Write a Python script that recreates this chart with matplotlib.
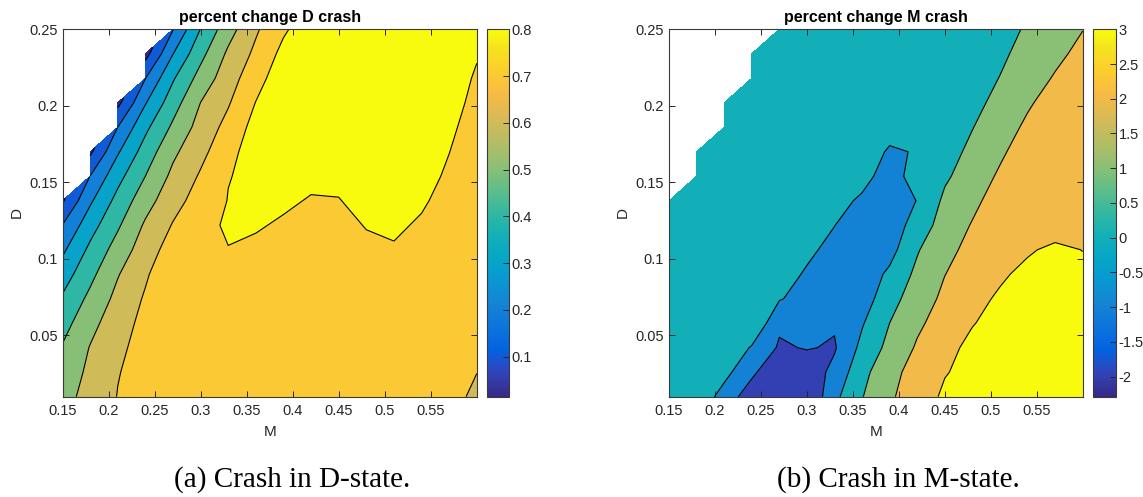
import numpy as np
import matplotlib
matplotlib.use("Agg")
import matplotlib.pyplot as plt
from matplotlib.colors import LinearSegmentedColormap, Normalize
from matplotlib.cm import ScalarMappable

nan = np.nan

# ---- grid ----
M_VALS = [0.15, 0.18, 0.21, 0.24, 0.27, 0.30, 0.33, 0.36,
          0.39, 0.42, 0.45, 0.48, 0.51, 0.54, 0.57, 0.60]
D_VALS = [0.010, 0.026, 0.042, 0.058, 0.074, 0.090, 0.106, 0.122,
          0.138, 0.154, 0.170, 0.186, 0.202, 0.218, 0.234, 0.250]

# percent change, D crash (rows = D from bottom to top)
Z_DCRASH = [
    [0.566, 0.634, 0.703, 0.7154, 0.7303, 0.7451, 0.760, 0.761, 0.7625, 0.764, 0.765, 0.7625, 0.760, 0.7371, 0.7142, 0.691],
    [0.542, 0.620, 0.696, 0.7335, 0.745, 0.752, 0.762, 0.7635, 0.765, 0.7665, 0.768, 0.7665, 0.765, 0.745, 0.723, 0.7005],
    [0.508, 0.6045, 0.6749, 0.745, 0.752, 0.758, 0.765, 0.7663, 0.7675, 0.7688, 0.770, 0.769, 0.768, 0.752, 0.736, 0.720],
    [0.4619, 0.571, 0.6548, 0.7293, 0.745, 0.758, 0.768, 0.769, 0.770, 0.771, 0.772, 0.771, 0.770, 0.760, 0.750, 0.740],
    [0.4128, 0.5235, 0.628, 0.7111, 0.740, 0.758, 0.772, 0.773, 0.774, 0.775, 0.776, 0.7755, 0.775, 0.770, 0.765, 0.760],
    [0.3512, 0.4734, 0.5935, 0.6869, 0.778, 0.785, 0.789, 0.784, 0.780, 0.780, 0.780, 0.7826, 0.787, 0.780, 0.778, 0.775],
    [0.2813, 0.4219, 0.5418, 0.6516, 0.745, 0.775, 0.7985, 0.7935, 0.786, 0.778, 0.779, 0.792, 0.7966, 0.786, 0.775, 0.770],
    [0.2027, 0.359, 0.4862, 0.6142, 0.7064, 0.7837, 0.807, 0.8031, 0.7958, 0.788, 0.789, 0.8018, 0.8062, 0.7953, 0.780, 0.775],
    [0.0885, 0.2846, 0.4321, 0.5596, 0.665, 0.7412, 0.803, 0.813, 0.8054, 0.7976, 0.7986, 0.8114, 0.815, 0.8049, 0.7868, 0.775],
    [nan, 0.2017, 0.3677, 0.5004, 0.6242, 0.7109, 0.797, 0.818, 0.815, 0.8072, 0.8082, 0.818, 0.818, 0.8125, 0.7945, 0.777],
    [nan, 0.0806, 0.2889, 0.4435, 0.5797, 0.6741, 0.7648, 0.857, 0.84, 0.83, 0.83, 0.83, 0.83, 0.818, 0.8005, 0.780],
    [nan, nan, 0.2006, 0.3776, 0.5179, 0.6382, 0.731, 0.835, 0.84, 0.83, 0.83, 0.83, 0.83, 0.82, 0.806, 0.786],
    [nan, nan, 0.0729, 0.2932, 0.4562, 0.6012, 0.691, 0.8026, 0.84, 0.83, 0.83, 0.83, 0.83, 0.82, 0.810, 0.7925],
    [nan, nan, nan, 0.1983, 0.3894, 0.5374, 0.656, 0.7623, 0.86, 0.84, 0.83, 0.83, 0.83, 0.82, 0.8125, 0.797],
    [nan, nan, nan, 0.0634, 0.298, 0.4709, 0.6178, 0.7213, 0.8277, 0.84, 0.83, 0.83, 0.83, 0.82, 0.815, 0.8019],
    [nan, nan, nan, nan, 0.1963, 0.4026, 0.5596, 0.6869, 0.7855, 0.86, 0.83, 0.83, 0.83, 0.82, 0.815, 0.81],
]

# percent change, M crash
Z_MCRASH = [
    [0.80, 0.75, -0.405, -1.565, -1.90, -1.98, -0.247, 0.959, 1.86, 2.527, 3.152, 3.20, 3.25, 3.25, 3.25, 3.25],
    [0.80, 0.75, 0.303, -0.792, -1.887, -1.60, -0.722, 0.70, 1.72, 2.348, 2.95, 3.25, 3.30, 3.30, 3.30, 3.30],
    [0.80, 0.80, 0.90, -0.099, -1.119, -0.941, -1.096, 0.262, 1.286, 2.111, 2.687, 3.263, 3.30, 3.30, 3.30, 3.30],
    [0.75, 0.80, 0.85, 0.95, -0.84, -0.95, -0.90, -0.084, 1.003, 1.831, 2.422, 2.95, 3.35, 3.35, 3.35, 3.35],
    [0.70, 0.75, 0.80, 0.80, 0.07, -0.377, -0.75, -0.50, 0.623, 1.531, 2.193, 2.673, 3.15, 3.25, 3.30, 3.30],
    [0.65, 0.70, 0.75, 0.70, 0.353, -0.098, -0.55, -0.60, 0.191, 1.233, 1.985, 2.416, 2.841, 3.267, 3.30, 3.25],
    [0.60, 0.65, 0.70, 0.70, 0.60, 0.173, -0.249, -0.60, -0.35, 0.912, 1.82, 2.187, 2.532, 2.876, 3.22, 2.98],
    [0.55, 0.60, 0.65, 0.65, 0.60, 0.45, 0.014, -0.50, -0.60, 0.45, 1.42, 2.064, 2.40, 2.60, 2.47, 2.60],
    [0.50, 0.55, 0.60, 0.60, 0.60, 0.55, 0.267, -0.124, -0.45, 0.022, 1.196, 1.771, 2.431, 2.50, 2.40, 2.45],
    [nan, 0.50, 0.55, 0.55, 0.55, 0.50, 0.45, 0.2534, -0.35, 0.336, 0.85, 1.49, 2.133, 2.40, 2.45, 2.50],
    [nan, 0.50, 0.50, 0.50, 0.50, 0.50, 0.50, 0.45, -0.10, 0.05, 0.60, 1.228, 1.845, 2.465, 2.50, 2.55],
    [nan, nan, 0.45, 0.45, 0.45, 0.45, 0.45, 0.40, 0.30, 0.40, 0.70, 0.97, 1.57, 2.17, 2.50, 2.60],
    [nan, nan, 0.40, 0.40, 0.40, 0.40, 0.40, 0.40, 0.40, 0.45, 0.50, 0.70, 1.309, 1.88, 2.40, 2.60],
    [nan, nan, nan, 0.40, 0.40, 0.40, 0.40, 0.40, 0.40, 0.40, 0.45, 0.60, 1.024, 1.556, 2.083, 2.50],
    [nan, nan, nan, 0.35, 0.35, 0.35, 0.35, 0.35, 0.35, 0.35, 0.40, 0.55, 0.835, 1.307, 1.78, 2.25],
    [nan, nan, nan, nan, 0.35, 0.35, 0.35, 0.35, 0.35, 0.35, 0.35, 0.50, 0.70, 1.096, 1.55, 1.98],
]

LEVELS_D = [0.1, 0.2, 0.3, 0.4, 0.5, 0.6, 0.7, 0.8]
RANGE_D = (0.014, 0.8)
CBTICKS_D = [0.1, 0.2, 0.3, 0.4, 0.5, 0.6, 0.7, 0.8]

LEVELS_M = [-2, -1, 0, 1, 2, 3]
RANGE_M = (-2.29, 3.0)
CBTICKS_M = [-2, -1.5, -1, -0.5, 0, 0.5, 1, 1.5, 2, 2.5, 3]

XTICKS = [0.15, 0.2, 0.25, 0.3, 0.35, 0.4, 0.45, 0.5, 0.55]
YTICKS = [0.05, 0.1, 0.15, 0.2, 0.25]

# MATLAB parula (sampled)
_par = [
    (0.2081, 0.1663, 0.5292), (0.1959, 0.2645, 0.7279), (0.0117, 0.3875, 0.8820),
    (0.0498, 0.4586, 0.8641), (0.0793, 0.5200, 0.8312), (0.0343, 0.5966, 0.8199),
    (0.0228, 0.6535, 0.7768), (0.0843, 0.6928, 0.7062), (0.2178, 0.7250, 0.6193),
    (0.3953, 0.7459, 0.5244), (0.5709, 0.7485, 0.4494), (0.7184, 0.7411, 0.3905),
    (0.8507, 0.7299, 0.3360), (0.9739, 0.7314, 0.2666), (0.9880, 0.8066, 0.1794),
    (0.9589, 0.8949, 0.1132), (0.9763, 0.9831, 0.0538),
]
_pos = [0, 4, 8, 12, 16, 20, 24, 28, 32, 36, 40, 44, 48, 52, 56, 60, 63]
parula = LinearSegmentedColormap.from_list(
    "parula", [(p / 63, c) for p, c in zip(_pos, _par)], N=256)

plt.rcParams.update({
    "font.family": ["Liberation Sans", "DejaVu Sans"],
    "axes.edgecolor": "#3a3a3a",
    "axes.linewidth": 0.8,
    "xtick.color": "#262626", "ytick.color": "#262626",
    "xtick.direction": "in", "ytick.direction": "in",
    "xtick.major.size": 4, "ytick.major.size": 4,
    "xtick.major.width": 0.7, "ytick.major.width": 0.7,
    "xtick.major.pad": 5,
    "xtick.top": True, "ytick.right": True,
})

fig = plt.figure(figsize=(11.43, 4.97), dpi=100)

def panel(ax_rect, cb_rect, Z, levels, vrange, cbticks, title):
    ax = fig.add_axes(ax_rect)
    cax = fig.add_axes(cb_rect)
    Zm = np.ma.masked_invalid(np.array(Z, dtype=float))
    norm = Normalize(*vrange)
    bounds = [-100] + list(levels) + [100]
    lows = [vrange[0]] + list(levels)
    cols = [parula(norm(v)) for v in lows]
    ax.contourf(M_VALS, D_VALS, Zm, levels=bounds, colors=cols)
    ax.contour(M_VALS, D_VALS, Zm, levels=levels, colors="k",
               linewidths=0.8, linestyles="solid")
    ax.set_xlim(0.15, 0.6)
    ax.set_ylim(0.01, 0.25)
    ax.set_xticks(XTICKS)
    ax.set_xticklabels([f"{v:g}" for v in XTICKS], fontsize=10.5)
    ax.set_yticks(YTICKS)
    ax.set_yticklabels([f"{v:g}" for v in YTICKS], fontsize=10.5)
    ax.set_xlabel("M", fontsize=11, color="#262626", labelpad=5)
    ax.set_ylabel("D", fontsize=11, color="#262626", labelpad=4)
    ax.set_title(title, fontsize=11.5, fontweight="bold", pad=5)
    cb = fig.colorbar(ScalarMappable(norm=norm, cmap=parula), cax=cax)
    cb.set_ticks(cbticks)
    cb.set_ticklabels([f"{v:g}" for v in cbticks])
    cb.ax.tick_params(labelsize=10.5, direction="in", length=4, width=0.7,
                      color="#262626", pad=2)
    cb.outline.set_edgecolor("#3a3a3a")
    cb.outline.set_linewidth(0.8)
    return ax

W, H = 1143, 497
def rect(x0, x1, y0=29.3, y1=396.7):
    return [x0 / W, 1 - y1 / H, (x1 - x0) / W, (y1 - y0) / H]

panel(rect(62.5, 476.8), rect(486.8, 508.9), Z_DCRASH, LEVELS_D, RANGE_D,
      CBTICKS_D, "percent change D crash")
panel(rect(669, 1082.7), rect(1093.4, 1115.7), Z_MCRASH, LEVELS_M, RANGE_M,
      CBTICKS_M, "percent change M crash")

fig.text(292 / W, 1 - 480 / H, "(a) Crash in D-state.", ha="center", va="center",
         fontsize=21, family=["Liberation Serif", "DejaVu Serif"])
fig.text(898 / W, 1 - 480 / H, "(b) Crash in M-state.", ha="center", va="center",
         fontsize=21, family=["Liberation Serif", "DejaVu Serif"])

fig.savefig("out.png", dpi=100)
